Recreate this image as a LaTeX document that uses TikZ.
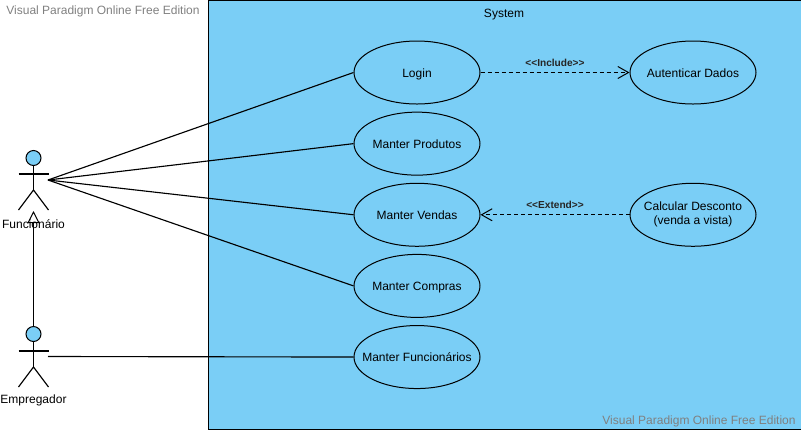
\documentclass[tikz,border=0pt]{standalone}
\usepackage{fontspec}
\setmainfont{Liberation Sans}
\usetikzlibrary{arrows.meta, positioning, shapes.geometric}
\definecolor{sysblue}{HTML}{7ACEF6}
\definecolor{markgray}{HTML}{808080}
\tikzset{
	usecase/.style={draw=black, fill=sysblue, ellipse, line width=0.75pt, minimum width=94.5pt,
		minimum height=47.25pt, inner xsep=-14pt, inner ysep=0pt, align=center, font=\fontsize{9}{10.5}\selectfont,
		text height=7.3pt, text depth=0pt},
	actorhead/.style={draw=black, fill=sysblue, circle, line width=0.75pt, minimum size=11.25pt, inner sep=0pt},
	actorlabel/.style={font=\fontsize{9}{10.5}\selectfont, inner sep=0pt},
	watermark/.style={font=\fontsize{9}{10.5}\selectfont, text=markgray, inner sep=0pt},
	stereo/.style={font=\fontsize{7.6}{9}\bfseries\selectfont, inner sep=0pt, text=black!85},
	assoc/.style={line width=0.85pt, draw=black},
	dep/.style={-{Straight Barb[length=8pt,width=9pt]}, line width=0.75pt, draw=black, dash pattern=on 3pt off 2.25pt},
	inherit/.style={-{Triangle[open,fill=white,length=9pt,width=9pt]}, line width=0.75pt, draw=black}
}

\begin{document}
\begin{tikzpicture}[x=0.75pt, y=-0.75pt, node distance=5.35pt and 111.75pt]
	\useasboundingbox (0,0) rectangle (801,430);
	\node[draw=black, fill=sysblue, line width=0.75pt, minimum width=444.5pt, minimum height=322pt, anchor=north west, inner sep=0pt] (system) at (208,-0.5) {};
	\node[inner sep=0pt, font=\fontsize{9}{10.5}\selectfont] (systitle) at (504,15) {System};
	\node[watermark] (marktop) at (103,11) {Visual Paradigm Online Free Edition};
	\node[watermark] (markbot) at (699,421) {Visual Paradigm Online Free Edition};
	% use cases
	\node[usecase] (login) at (417,72.5) {Login};
	\node[usecase, below=of login] (produtos) {Manter Produtos};
	\node[usecase, below=of produtos] (vendas) {Manter Vendas};
	\node[usecase, below=of vendas] (compras) {Manter Compras};
	\node[usecase, below=of compras] (funcs) {Manter Funcionários};
	\node[usecase, right=of login] (autent) {Autenticar Dados};
	\node[usecase, right=of vendas, text height=, text depth=] (desconto) {Calcular Desconto\\(venda a vista)};
	% actors
	\node[actorhead] (funchead) at (33.5,158) {};
	\coordinate (funcneck) at (33.5,190);
	\coordinate (funcport) at (48,180);
	\draw[assoc] (funchead) -- (funcneck);
	\draw[assoc] (18.5,174) -- (48.5,174);
	\draw[assoc] (18.5,210) -- (funcneck) -- (48.5,210);
	\node[actorhead] (emphead) at (33.5,334) {};
	\coordinate (empneck) at (33.5,367);
	\coordinate (empport) at (48,356.5);
	\draw[assoc] (emphead) -- (empneck);
	\draw[assoc] (18.5,351) -- (48.5,351);
	\draw[assoc] (18.5,387) -- (empneck) -- (48.5,387);
	\coordinate (functip) at (33.5,211);
	\draw[inherit] (emphead) -- (functip);
	\node[actorlabel] (funclabel) at (33.5,224) {Funcionário};
	\node[actorlabel] (emplabel) at (33.5,400) {Empregador};
	% links
	\draw[assoc] (funcport) -- (login.west);
	\draw[assoc] (funcport) -- (produtos.west);
	\draw[assoc] (funcport) -- (vendas.west);
	\draw[assoc] (funcport) -- (compras.west);
	\draw[assoc] (empport) -- (funcs.west);
	\draw[dep] (login) -- (autent) node[stereo, midway, above=4pt] (inc) {<{}<Include>{}>};
	\draw[dep] (desconto) -- (vendas) node[stereo, midway, above=4pt] (ext) {<{}<Extend>{}>};
\end{tikzpicture}
\end{document}
